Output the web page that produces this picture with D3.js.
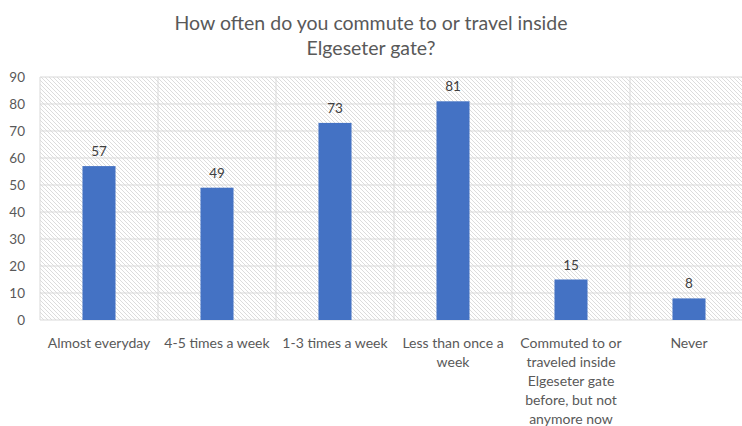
<!DOCTYPE html>
<html lang="en">
<head>
<meta charset="UTF-8">
<title>Elgeseter gate commute</title>
<script src="https://d3js.org/d3.v7.min.js"></script>
<style>
    body { margin: 0; background: #fff; }
    svg { display: block; font-family: Lato, "Open Sans", sans-serif; }
</style>
</head>
<body>
<svg width="742" height="426"></svg>
<script>
    const titleLines = ["How often do you commute to or travel inside", "Elgeseter gate?"];
    const categories = [
        ["Almost everyday"],
        ["4-5 times a week"],
        ["1-3 times a week"],
        ["Less than once a", "week"],
        ["Commuted to or", "traveled inside", "Elgeseter gate", "before, but not", "anymore now"],
        ["Never"]
    ];
    const values = [57, 49, 73, 81, 15, 8];
    const yTicks = [0, 10, 20, 30, 40, 50, 60, 70, 80, 90];

    const svg = d3.select("svg");
    const plotL = 40, plotR = 748, plotT = 77, plotB = 320;

    // hatch pattern for the plot background
    const pat = svg.append("defs").append("pattern")
        .attr("id", "hatch")
        .attr("patternUnits", "userSpaceOnUse")
        .attr("width", 4).attr("height", 4);
    pat.append("path")
        .attr("d", "M-1,-1 L5,5 M-1,3 L1,5 M3,-1 L5,1")
        .attr("stroke", "#dcdcdc")
        .attr("stroke-width", 1);

    const x = d3.scaleBand().domain(d3.range(categories.length)).range([plotL, plotR]);
    const y = d3.scaleLinear().domain([0, 90]).range([plotB, plotT]);

    svg.append("rect")
        .attr("x", plotL).attr("y", plotT)
        .attr("width", plotR - plotL).attr("height", plotB - plotT)
        .attr("fill", "url(#hatch)");

    // horizontal gridlines
    svg.append("g").selectAll("line")
        .data(yTicks)
        .join("line")
        .attr("x1", plotL).attr("x2", plotR)
        .attr("y1", d => y(d)).attr("y2", d => y(d))
        .attr("stroke", "#d9d9d9");

    // vertical category separators
    svg.append("g").selectAll("line")
        .data(d3.range(categories.length + 1))
        .join("line")
        .attr("x1", i => plotL + i * x.step()).attr("x2", i => plotL + i * x.step())
        .attr("y1", plotT).attr("y2", plotB)
        .attr("stroke", "#d9d9d9");

    // y axis labels
    svg.append("g").selectAll("text")
        .data(yTicks)
        .join("text")
        .attr("x", 25).attr("y", d => y(d))
        .attr("dy", "0.35em")
        .attr("text-anchor", "end")
        .attr("fill", "#595959")
        .attr("font-size", 13.5)
        .text(d => d);

    const bw = x.bandwidth() * 0.28;

    svg.append("g").selectAll("rect")
        .data(values)
        .join("rect")
        .attr("x", (d, i) => x(i) + x.bandwidth() / 2 - bw / 2)
        .attr("y", d => y(d))
        .attr("width", bw)
        .attr("height", d => plotB - y(d))
        .attr("fill", "#4472c4");

    svg.append("g").selectAll("text")
        .data(values)
        .join("text")
        .attr("x", (d, i) => x(i) + x.bandwidth() / 2)
        .attr("y", d => y(d) - 10)
        .attr("text-anchor", "middle")
        .attr("fill", "#404040")
        .attr("font-size", 13.5)
        .text(d => d);

    // category labels
    const cat = svg.append("g").selectAll("text")
        .data(categories)
        .join("text")
        .attr("x", (d, i) => x(i) + x.bandwidth() / 2)
        .attr("y", 348)
        .attr("text-anchor", "middle")
        .attr("fill", "#595959")
        .attr("font-size", 14);
    cat.selectAll("tspan")
        .data(d => d)
        .join("tspan")
        .attr("x", function () { return this.parentNode.getAttribute("x"); })
        .attr("dy", (d, i) => i === 0 ? 0 : 19)
        .text(d => d);

    svg.append("text")
        .attr("x", 371).attr("y", 30)
        .attr("text-anchor", "middle")
        .attr("fill", "#595959")
        .attr("font-size", 19.5)
        .selectAll("tspan")
        .data(titleLines)
        .join("tspan")
        .attr("x", 371)
        .attr("dy", (d, i) => i === 0 ? 0 : 25)
        .text(d => d);
</script>
</body>
</html>
